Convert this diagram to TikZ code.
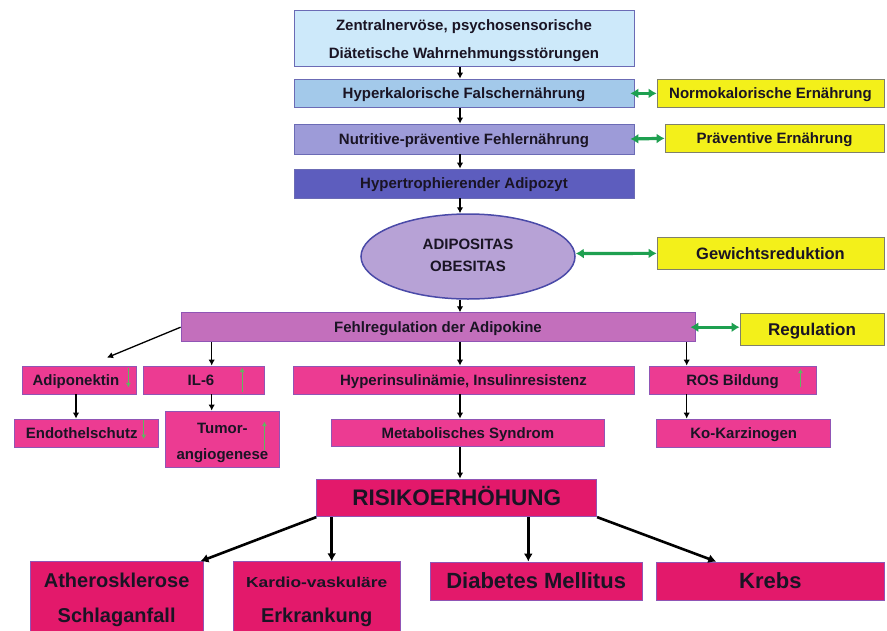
\documentclass[tikz,border=0pt]{standalone}
\usepackage{fontspec}
\setmainfont{Liberation Sans}
\newfontfamily\widefont[FakeStretch=1.2]{Liberation Sans}
\usetikzlibrary{shapes.geometric,arrows.meta}
\definecolor{cZen}{HTML}{CDE9FA}
\definecolor{cHyk}{HTML}{A3C9EA}
\definecolor{cNut}{HTML}{9D9BD8}
\definecolor{cHyt}{HTML}{5D5DBE}
\definecolor{cBlueB}{HTML}{6B6BB5}
\definecolor{cYel}{HTML}{F3F01A}
\definecolor{cYelB}{HTML}{80806A}
\definecolor{cEll}{HTML}{B7A2D6}
\definecolor{cEllB}{HTML}{4A4AA8}
\definecolor{cFehl}{HTML}{C36FBC}
\definecolor{cPink}{HTML}{EC3B92}
\definecolor{cPinkB}{HTML}{9055B5}
\definecolor{cRed}{HTML}{E3196B}
\definecolor{cGreen}{HTML}{1EA050}
\definecolor{cLGreen}{HTML}{5FB860}
\definecolor{cTxt}{HTML}{1A1424}
\newcommand\twolines[2]{\begin{tabular}{@{}c@{}}#1\\#2\end{tabular}}
\tikzset{
  bx/.style={draw=cBlueB, line width=0.8pt, inner sep=0pt, align=center, text=cTxt,
    font=\bfseries\fontsize{15}{28}\selectfont},
  sl/.style={text height=#1, text depth=0pt},
  ybx/.style={bx, draw=cYelB, fill=cYel},
  pbx/.style={bx, draw=cPinkB, fill=cPink},
  rbx/.style={bx, draw=cPinkB, fill=cRed},
  arr/.style={draw=black, line width=1.3pt, -{Latex[length=6pt,width=6.5pt]}},
  barr/.style={draw=black, line width=2.6pt, -{Latex[length=8pt,width=9pt]}},
  garr/.style={draw=cGreen, line width=3.2pt, {Latex[length=8pt,width=10pt]}-{Latex[length=8pt,width=10pt]}},
  sgarr/.style={draw=cLGreen, line width=1.2pt, -{Latex[length=4.5pt,width=5pt]}},
}
\begin{document}
\begin{tikzpicture}[x=1pt,y=-1pt]
\useasboundingbox[fill=white] (0,0) rectangle (887,630);
% top chain
\node[bx, fill=cZen, minimum width=340, minimum height=56] (zen) at (464,38.7)
  {\twolines{Zentralnervöse, psychosensorische}{Diätetische Wahrnehmungsstörungen}};
\node[bx, sl=10.8pt, fill=cHyk, minimum width=340, minimum height=28.7] (hyk) at (464,93.35) {Hyperkalorische Falschernährung};
\node[bx, sl=10.8pt, fill=cNut, minimum width=340, minimum height=30] (nut) at (464,139) {Nutritive-präventive Fehlernährung};
\node[bx, sl=10.8pt, fill=cHyt, minimum width=340, minimum height=29] (hyt) at (464,183.5) {Hypertrophierender Adipozyt};
\node[ybx, sl=10.8pt, minimum width=227, minimum height=28.7] (nor) at (770.5,93.35) {Normokalorische Ernährung};
\node[ybx, sl=10.8pt, minimum width=219, minimum height=28.7] (pra) at (774.5,138.35) {Präventive Ernährung};
\node[ellipse, draw=cEllB, line width=1.5pt, fill=cEll, minimum width=214, minimum height=85, inner sep=0pt,
  text=cTxt, font=\bfseries\fontsize{15}{22}\selectfont] (ell) at (468,256.5) {\twolines{ADIPOSITAS}{OBESITAS}};
\node[ybx, sl=11.9pt, minimum width=227, minimum height=31.3, font=\bfseries\fontsize{16.5}{20}\selectfont] (gew) at (770.5,253.35) {Gewichtsreduktion};
\node[bx, sl=10.8pt, draw=cPinkB, fill=cFehl, minimum width=514, minimum height=29] (fehl) at (438,327.2) {Fehlregulation der Adipokine};
\node[ybx, sl=12.2pt, minimum width=144, minimum height=32, font=\bfseries\fontsize{17}{20}\selectfont] (reg) at (812,329) {Regulation};
% second level
\node[pbx, sl=10.8pt, minimum width=113.3, minimum height=28] (adi) at (79.35,380) {\hspace*{-7pt}Adiponektin};
\node[pbx, sl=10.8pt, minimum width=121, minimum height=28] (il6) at (203.5,380) {\hspace*{-5pt}IL-6};
\node[pbx, sl=10.8pt, minimum width=341, minimum height=28] (hin) at (463.5,380) {Hyperinsulinämie, Insulinresistenz};
\node[pbx, sl=10.8pt, minimum width=167, minimum height=28] (ros) at (732.5,380) {ROS Bildung};
\node[pbx, sl=10.8pt, minimum width=144, minimum height=28.7] (end) at (86.7,433.35) {\hspace*{-10pt}Endothelschutz};
\node[pbx, minimum width=113.3, minimum height=56, font=\bfseries\fontsize{15}{26}\selectfont] (tum) at (222.35,439)
  {\raisebox{-2pt}[\height][\depth]{\twolines{Tumor-}{angiogenese}}};
\node[pbx, sl=10.8pt, minimum width=272.3, minimum height=27.7] (met) at (467.85,432.85) {Metabolisches Syndrom};
\node[pbx, sl=10.8pt, minimum width=174, minimum height=28] (ko) at (743.7,433) {Ko-Karzinogen};
% risk
\node[rbx, sl=16.1pt, minimum width=280, minimum height=37.7, font=\bfseries\fontsize{22.5}{24}\selectfont] (risk) at (456.7,497.85) {RISIKOERHÖHUNG};
\node[rbx, minimum width=173.3, minimum height=72.3, font=\bfseries\fontsize{20}{35}\selectfont] (ath) at (116.65,597.85)
  {\twolines{Atherosklerose}{Schlaganfall}};
\node[rbx, minimum width=166.7, minimum height=72.3, font=\bfseries\fontsize{20}{35}\selectfont] (kar) at (316.65,597.85)
  {\twolines{{\widefont\fontsize{14.5}{35}\selectfont Kardio-vaskuläre}}{Erkrankung}};
\node[rbx, sl=15.8pt, minimum width=212.3, minimum height=38, font=\bfseries\fontsize{22}{24}\selectfont] (dia) at (536.15,581) {Diabetes Mellitus};
\node[rbx, sl=15.8pt, minimum width=227.3, minimum height=38, font=\bfseries\fontsize{22}{24}\selectfont] (kre) at (770.35,581) {Krebs};
% arrow columns
\coordinate (ax) at (460,0);
\coordinate (a6) at (211.7,0);
\coordinate (ar) at (686.7,0);
\coordinate (aa) at (76,0);
\coordinate (ak) at (331.7,0);
\coordinate (ad) at (528.3,0);
% chain arrows
\draw[arr] (zen.south -| ax) -- (hyk.north -| ax);
\draw[arr] (hyk.south -| ax) -- (nut.north -| ax);
\draw[arr] (nut.south -| ax) -- (hyt.north -| ax);
\draw[arr] (hyt.south -| ax) -- (ell.north -| ax);
\draw[arr] (ell.south -| ax) -- (fehl.north -| ax);
\draw[arr] (fehl.south -| ax) -- (hin.north -| ax);
\draw[arr] (hin.south -| ax) -- (met.north -| ax);
\draw[arr] (met.south -| ax) -- (risk.north -| ax);
\draw[arr] (fehl.west) -- ([xshift=27.65pt,yshift=8pt]adi.north);
\draw[arr] (fehl.south -| a6) -- (il6.north -| a6);
\draw[arr] (il6.south -| a6) -- (tum.north -| a6);
\draw[arr] (fehl.south -| ar) -- (ros.north -| ar);
\draw[arr] (ros.south -| ar) -- (ko.north -| ar);
\draw[arr] (adi.south -| aa) -- (end.north -| aa);
% risk arrows
\draw[barr] (risk.south west) -- ([xshift=-3.3pt]ath.north east);
\draw[barr] (risk.south -| ak) -- (kar.north -| ak);
\draw[barr] (risk.south -| ad) -- (dia.north -| ad);
\draw[barr] (risk.south east) -- ([xshift=60pt]kre.north west);
% green double arrows
\draw[garr] ([xshift=-4pt]hyk.east) -- (nor.west);
\draw[garr] ([xshift=-4pt]nut.east) -- (pra.west);
\draw[garr] ([yshift=3pt]ell.east) -- (gew.west);
\draw[garr] ([xshift=-5pt]fehl.east) -- (fehl.east -| reg.west);
% small green up/down arrows
\draw[sgarr] ([xshift=-8pt,yshift=-2pt]adi.north east) -- ([xshift=-8pt,yshift=7pt]adi.south east);
\draw[sgarr] ([xshift=-15.4pt,yshift=-1pt]end.north east) -- ([xshift=-15.4pt,yshift=9pt]end.south east);
\draw[sgarr] ([xshift=-22.3pt,yshift=2pt]il6.south east) -- ([xshift=-22.3pt,yshift=-2pt]il6.north east);
\draw[sgarr] ([xshift=-15pt,yshift=17pt]tum.south east) -- ([xshift=-15pt,yshift=-11pt]tum.north east);
\draw[sgarr] ([xshift=-16pt,yshift=7pt]ros.south east) -- ([xshift=-16pt,yshift=-3pt]ros.north east);
\end{tikzpicture}
\end{document}
